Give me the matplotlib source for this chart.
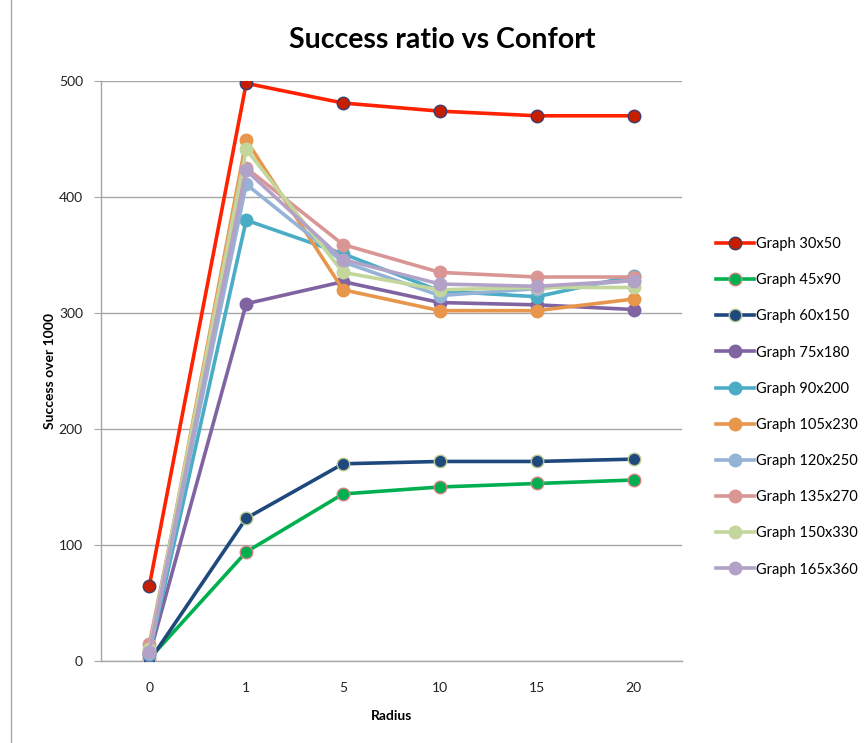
import matplotlib.pyplot as plt
from matplotlib.lines import Line2D

radius = ["0", "1", "5", "10", "15", "20"]

graphs = ["Graph 30x50", "Graph 45x90", "Graph 60x150", "Graph 75x180", "Graph 90x200",
          "Graph 105x230", "Graph 120x250", "Graph 135x270", "Graph 150x330", "Graph 165x360"]

g30x50 = [65, 498, 481, 474, 470, 470]
g45x90 = [2, 94, 144, 150, 153, 156]
g60x150 = [0, 123, 170, 172, 172, 174]
g75x180 = [5, 308, 327, 309, 307, 303]
g90x200 = [6, 380, 351, 319, 314, 332]
g105x230 = [8, 449, 320, 302, 302, 312]
g120x250 = [7, 411, 344, 315, 321, 328]
g135x270 = [15, 425, 359, 335, 331, 331]
g150x330 = [10, 441, 335, 320, 322, 322]
g165x360 = [8, 423, 346, 325, 323, 328]

series = [g30x50, g45x90, g60x150, g75x180, g90x200,
          g105x230, g120x250, g135x270, g150x330, g165x360]

# line colour, marker fill, marker edge
styles = [
    ("#FF2200", "#C81E00", "#3B3F6E"),
    ("#00B050", "#00B050", "#D08080"),
    ("#1F497D", "#1F497D", "#B8C890"),
    ("#8064A2", "#8064A2", "#8064A2"),
    ("#4BACC6", "#4BACC6", "#4BACC6"),
    ("#E8964C", "#E8964C", "#E8964C"),
    ("#95B3D7", "#95B3D7", "#95B3D7"),
    ("#D99694", "#D99694", "#D99694"),
    ("#C3D69B", "#C3D69B", "#C3D69B"),
    ("#B3A2C7", "#B3A2C7", "#B3A2C7"),
]

plt.rcParams['font.family'] = ['Lato', 'DejaVu Sans']

fig = plt.figure(figsize=(8.66, 7.43), dpi=100)
ax = fig.add_axes([0.1166, 0.1104, 0.6709, 0.7806])

x = list(range(len(radius)))
handles = []
for name, vals, (lc, mf, me) in zip(graphs, series, styles):
    ax.plot(x, vals, color=lc, lw=2.6, marker='o', ms=9,
            markerfacecolor=mf, markeredgecolor=me, markeredgewidth=1.0,
            solid_joinstyle='round', zorder=3)
    handles.append(Line2D([], [], color=lc, lw=2.6, marker='o', ms=9,
                          markerfacecolor=mf, markeredgecolor=me, markeredgewidth=1.0))

ax.set_xlim(-0.5, len(radius) - 0.5)
ax.set_ylim(0, 500)
ax.set_xticks(x)
ax.set_xticklabels(radius)
ax.set_yticks([0, 100, 200, 300, 400, 500])
ax.yaxis.grid(True, color='#A6A6A6', lw=1.0)
ax.set_axisbelow(True)

for s in ['top', 'right']:
    ax.spines[s].set_visible(False)
for s in ['left', 'bottom']:
    ax.spines[s].set_color('#A6A6A6')
    ax.spines[s].set_linewidth(1.0)
ax.tick_params(axis='y', length=5, color='#A6A6A6', labelsize=10, pad=8, labelcolor='#222222')
ax.tick_params(axis='x', length=0, labelsize=10, pad=15, labelcolor='#222222')

# chart title is centred on the whole chart area, not the plot area
fig.text(0.511, 0.946, "Success ratio vs Confort", fontsize=20.5, fontweight='bold',
         ha='center', va='center')
ax.set_xlabel("Radius", fontsize=10, fontweight='bold', labelpad=12)
ax.set_ylabel("Success over 1000", fontsize=10, fontweight='bold', labelpad=2)

fig.legend(handles, graphs, loc='upper left', bbox_to_anchor=(0.827, 0.681),
           frameon=False, fontsize=10.5, handlelength=2.6, handletextpad=0.15,
           labelspacing=1.52, borderaxespad=0, borderpad=0)

# outer chart border on the left
fig.add_artist(Line2D([0.0125, 0.0125], [0, 1], transform=fig.transFigure,
                      color='#A6A6A6', lw=1.0))

fig.savefig("out.png", dpi=100)
